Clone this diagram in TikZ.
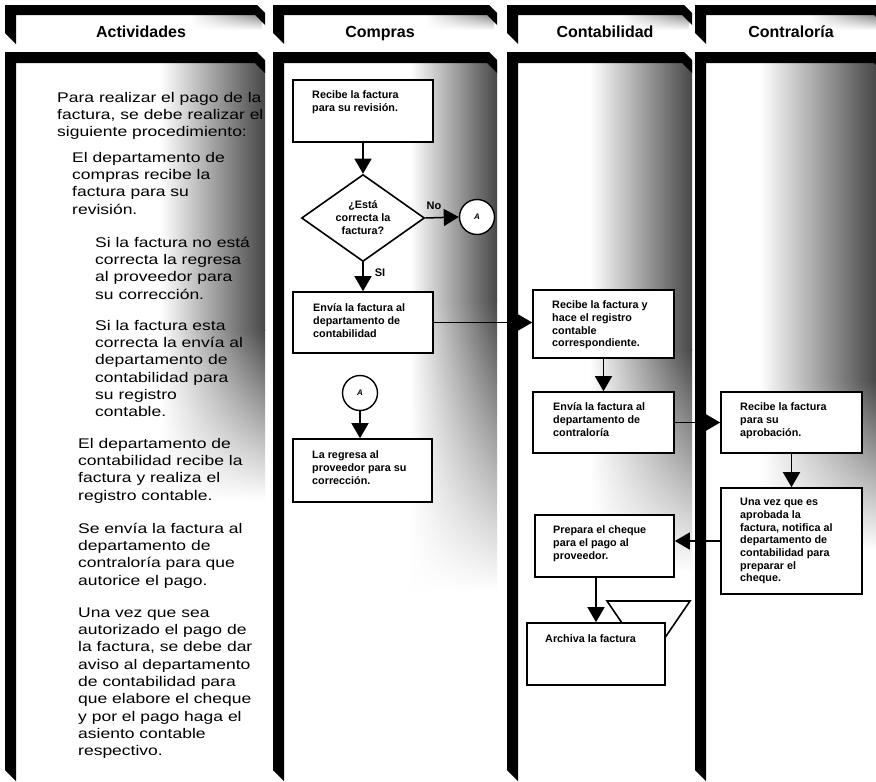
\documentclass[tikz,border=0pt]{standalone}
\usepackage{fontspec}
\setmainfont{Liberation Sans}
\newfontfamily\widefont[FakeStretch=1.25]{Liberation Sans}
\usetikzlibrary{arrows.meta,shapes.geometric,fadings}
\tikzfading[name=fadedown, top color=transparent!0, bottom color=transparent!100]
% x0, xr, y0, yb, thickness
\newcommand\lanebar[5]{%
  \fill[black] (#1,#3) -- (#2-8,#3) -- (#2,#3+8) -- (#2,#3+#5+10) -- (#2-10,#3+#5)
    -- (#1+11,#3+#5) -- (#1+11,#4) -- (#1,#4-11) -- cycle;}
\begin{document}
\begin{tikzpicture}[x=1pt,y=-1pt,
  box/.style={draw, line width=1.6pt, fill=white, inner sep=0pt},
  btxt/.style={anchor=north west, inner sep=0pt, align=left, font=\fontsize{10.8}{12.7}\selectfont\bfseries},
  bdtxt/.style={anchor=north west, inner sep=0pt, align=left, font=\widefont\fontsize{14}{17.3}\selectfont},
  hdr/.style={anchor=base, inner sep=0pt, font=\fontsize{16}{19}\selectfont\bfseries},
  conn/.style={line width=1.5pt, -{Triangle[length=15pt,width=17pt]}},
  lbl/.style={inner sep=0pt, font=\fontsize{11}{13}\selectfont\bfseries},
  con/.style={draw, circle, line width=1.4pt, minimum size=35pt, inner sep=0pt, fill=white, font=\fontsize{8}{8}\selectfont\bfseries\itshape},
  noise/.style={left color=white, right color=black!72},
  hnoise/.style={left color=white, right color=black!45},
]
\useasboundingbox (0,0) rectangle (876,782);
\fill[white] (0,0) rectangle (876,782);

% scan shading
\shade[noise] (160,63) rectangle (265,330);
\shade[noise, path fading=fadedown] (160,330) rectangle (265,500);
\shade[noise] (410,63) rectangle (497,300);
\shade[noise, path fading=fadedown] (410,300) rectangle (497,590);
\shade[noise] (590,63) rectangle (692,350);
\shade[noise, path fading=fadedown] (590,350) rectangle (692,570);
\shade[noise] (760,63) rectangle (876,380);
\shade[noise, path fading=fadedown] (760,380) rectangle (876,550);
\shade[hnoise, path fading=fadedown] (190,15) rectangle (262,30);
\shade[hnoise, path fading=fadedown] (425,15) rectangle (494,30);
\shade[hnoise, path fading=fadedown] (620,15) rectangle (689,30);
\shade[hnoise, path fading=fadedown] (810,15) rectangle (876,30);

% activity text (under the frames)
\node[bdtxt] (p0) at (57,90) {\strut Para realizar el pago de la\\factura, se debe realizar el\\siguiente procedimiento:};
\node[bdtxt] (p1) at (72,150) {\strut El departamento de\\compras recibe la\\factura para su\\revisión.};
\node[bdtxt] (p2) at (95,235) {\strut Si la factura no está\\correcta la regresa\\al proveedor para\\su corrección.};
\node[bdtxt] (p3) at (95,318) {\strut Si la factura esta\\correcta la envía al\\departamento de\\contabilidad para\\su registro\\contable.};
\node[bdtxt] (p4) at (78,436) {\strut El departamento de\\contabilidad recibe la\\factura y realiza el\\registro contable.};
\node[bdtxt] (p5) at (78,521) {\strut Se envía la factura al\\departamento de\\contraloría para que\\autorice el pago.};
\node[bdtxt] (p6) at (78,605) {\strut Una vez que sea\\autorizado el pago de\\la factura, se debe dar\\aviso al departamento\\de contabilidad para\\que elabore el cheque\\y por el pago haga el\\asiento contable\\respectivo.};

% lane frames
\lanebar{5}{265}{5}{44}{10}
\lanebar{273}{497}{5}{44}{10}
\lanebar{507}{692}{5}{44}{10}
\lanebar{695}{884}{5}{44}{10}
\lanebar{5}{265}{52}{781}{11}
\lanebar{273}{497}{52}{781}{11}
\lanebar{507}{692}{52}{781}{11}
\lanebar{695}{884}{52}{781}{11}

% headers
\node[hdr] (h1) at (141,37) {Actividades};
\node[hdr] (h2) at (380,37) {Compras};
\node[hdr] (h3) at (605,37) {Contabilidad};
\node[hdr] (h4) at (791,37) {Contraloría};

% Compras
\node[box, minimum width=140pt, minimum height=62pt] (r1) at (363,111) {};
\node[btxt] (r1t) at (312,89.6) {\strut Recibe la factura\\para su revisión.};
\node[draw, diamond, aspect=1.41, minimum width=123pt, minimum height=87pt, line width=1.6pt,
      fill=white, inner sep=0pt, align=center, font=\fontsize{10.8}{13}\selectfont\bfseries] (d1) at (363,218) {¿Está\\correcta la\\factura?};
\node[con] (c1) at (477,217) {A};
\node[box, minimum width=140pt, minimum height=61pt] (e1) at (363,322.5) {};
\node[btxt] (e1t) at (313,302.6) {\strut Envía la factura al\\departamento de\\contabilidad};
\node[con] (c2) at (360,393) {A};
\node[box, minimum width=139pt, minimum height=63pt] (lr) at (362.5,470.5) {};
\node[btxt] (lrt) at (312,449.6) {\strut La regresa al\\proveedor para su\\corrección.};
\node[lbl] (no) at (434,206) {No};
\node[lbl] (si) at (380,273) {SI};

% Contabilidad
\node[box, minimum width=141pt, minimum height=68pt] (rc) at (603.5,324) {};
\node[btxt] (rct) at (552,299.6) {\strut Recibe la factura y\\hace el registro\\contable\\correspondiente.};
\node[box, minimum width=141pt, minimum height=61pt] (ec) at (603.5,422.5) {};
\node[btxt] (ect) at (553,401.6) {\strut Envía la factura al\\departamento de\\contraloría};
\node[box, minimum width=139pt, minimum height=62pt] (pc) at (604.5,546) {};
\node[btxt] (pct) at (553,524.6) {\strut Prepara el cheque\\para el pago al\\proveedor.};
\draw[line width=1.6pt, fill=white] (607,601) -- (690,601) -- (660,645) -- (637,645) -- cycle;
\node[box, minimum width=138pt, minimum height=62pt] (ar) at (596,654) {};
\node[btxt] (art) at (545,633.6) {\strut Archiva la factura};

% Contraloria
\node[box, minimum width=141pt, minimum height=61pt] (ra) at (791.5,422.5) {};
\node[btxt] (rat) at (740,401.6) {\strut Recibe la factura\\para su\\aprobación.};
\node[box, minimum width=141pt, minimum height=106pt] (uv) at (791.5,541) {};
\node[btxt] (uvt) at (740,496.6) {\strut Una vez que es\\aprobada la\\factura, notifica al\\departamento de\\contabilidad para\\preparar el\\cheque.};

% connectors
\draw[conn] (r1.south) -- (d1.north);
\draw[conn] (d1.east) -- (c1.west);
\draw[conn] (d1.south) -- (e1.north);
\draw[conn] (e1.east) -- (e1.east -| rc.west);
\draw[conn] (c2.south) -- (c2.south |- lr.north);
\draw[conn] (rc.south) -- (ec.north);
\draw[conn] (ec.east) -- (ra.west);
\draw[conn] (ra.south) -- (uv.north);
\draw[conn] (uv.west) -- (uv.west -| pc.east);
\draw[conn] (ar.north |- pc.south) -- (ar.north);
\end{tikzpicture}
\end{document}
